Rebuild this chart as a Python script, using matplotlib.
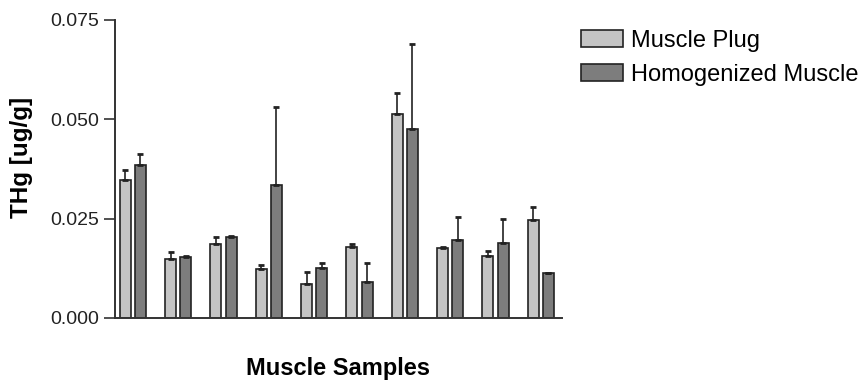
import numpy as np
import matplotlib
matplotlib.use("Agg")
import matplotlib.pyplot as plt

plt.rcParams['font.family'] = ['Liberation Sans', 'DejaVu Sans']

# THg values (ug/g)
plug_mean = [0.0347, 0.0148, 0.0187, 0.0124, 0.0085, 0.0179, 0.0514, 0.0177, 0.0156, 0.0246]
plug_err = [0.0025, 0.0018, 0.0016, 0.0010, 0.0032, 0.0006, 0.0052, 0.0002, 0.0012, 0.0034]
homog_mean = [0.0385, 0.0154, 0.0205, 0.0335, 0.0127, 0.0090, 0.0476, 0.0197, 0.0188, 0.0112]
homog_err = [0.0028, 0.0003, 0.0001, 0.0195, 0.0011, 0.0049, 0.0214, 0.0057, 0.0061, 0.0001]

labels = ["Muscle Plug", "Homogenized Muscle"]
colors = ["#c4c4c4", "#7d7d7d"]

x = np.arange(len(plug_mean))
off = 0.168
w = 0.245

fig = plt.figure(figsize=(8.62, 3.8), dpi=100)
ax = fig.add_axes([114.7 / 862, 62 / 380, 447 / 862, 298 / 380])

err_kw = dict(ecolor="#222222", elinewidth=1.2, capsize=2.3, capthick=2)
ax.bar(x - off, plug_mean, w, color=colors[0], edgecolor="#222222", linewidth=1.2,
       yerr=[np.zeros(len(plug_err)), plug_err], error_kw=err_kw, label=labels[0])
ax.bar(x + off, homog_mean, w, color=colors[1], edgecolor="#222222", linewidth=1.2,
       yerr=[np.zeros(len(homog_err)), homog_err], error_kw=err_kw, label=labels[1])

ax.set_xlim(-0.40, 9.46)
ax.set_ylim(0, 0.075)
ax.set_yticks([0.0, 0.025, 0.05, 0.075])
ax.set_yticklabels(["0.000", "0.025", "0.050", "0.075"])
ax.set_xticks([])
for s in ["top", "right"]:
    ax.spines[s].set_visible(False)
for s in ["left", "bottom"]:
    ax.spines[s].set_linewidth(1.4)
    ax.spines[s].set_color("#333333")
ax.tick_params(axis="y", length=8, width=1.2, color="#333333", labelsize=14,
               labelcolor="#222222", pad=3)

ax.set_ylabel("THg [ug/g]", fontsize=17.5, fontweight="bold")
ax.yaxis.set_label_coords(-0.183, 0.54)
ax.set_xlabel("Muscle Samples", fontsize=17, fontweight="bold", labelpad=28)

fig.legend(loc="upper left", bbox_to_anchor=(581 / 862, 1 - 30 / 380), frameon=False,
           fontsize=17, handlelength=1.8, handleheight=0.7, handletextpad=0.3,
           labelspacing=0.5, borderpad=0, borderaxespad=0)

fig.savefig("out.png", dpi=100)
